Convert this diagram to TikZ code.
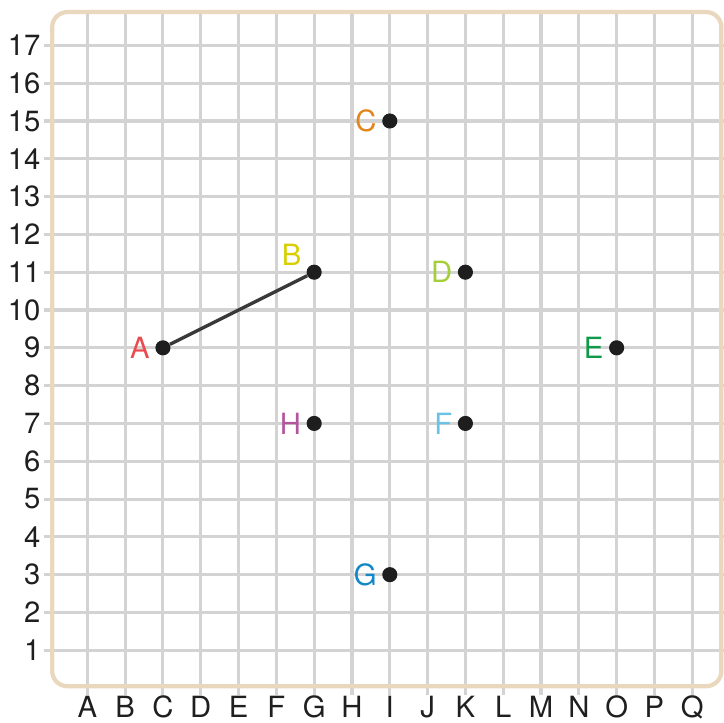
\documentclass[tikz,border=0pt]{standalone}
\usepackage{fontspec}
\setmainfont{TeX Gyre Heros}
\usetikzlibrary{positioning}
\definecolor{gridgray}{HTML}{D3D3D3}
\definecolor{framebeige}{HTML}{EAD8BE}
\definecolor{dotblack}{HTML}{1E1E1E}
\definecolor{segline}{HTML}{3A3838}
\definecolor{cA}{HTML}{E94B4F}
\definecolor{cB}{HTML}{D8CE00}
\definecolor{cC}{HTML}{E2861C}
\definecolor{cD}{HTML}{A5CF3A}
\definecolor{cE}{HTML}{0E9A48}
\definecolor{cF}{HTML}{6AC3E6}
\definecolor{cG}{HTML}{1287C6}
\definecolor{cH}{HTML}{B2559C}

\begin{document}
\begin{tikzpicture}[
  dot/.style={circle,fill=dotblack,inner sep=0pt,minimum size=4mm},
  lbl/.style={font=\fontsize{22}{26}\selectfont,inner sep=1pt},
  axislbl/.style={font=\fontsize{22}{26}\selectfont,text=black!88,inner sep=1pt},
  gridline/.style={draw=gridgray,line width=2.3pt},
  node distance=1mm]
\useasboundingbox (-1.31,-0.905) rectangle (17.84,18.20);

% squared paper
\foreach \y in {1,...,17}
  \draw[gridline] (-0.15,\y) -- (17.84,\y);
\foreach \x in {1,...,17}
  \draw[gridline] (\x,17.88) -- (\x,-0.19);
\draw[framebeige,line width=3.2pt,rounded corners=4mm] (0.07,0.05) rectangle (17.77,17.88);

% axis labels
\foreach \y in {1,...,17}
  \node[axislbl,anchor=east] (row\y) at (-0.2,\y) {\y};
\foreach \l [count=\x] in {A,B,C,D,E,F,G,H,I,J,K,L,M,N,O,P,Q}
  \node[axislbl,anchor=base] (col\x) at (\x,-0.77) {\l};

% points
\node[dot] (ptA) at (3,9) {};
\node[dot] (ptB) at (7,11) {};
\node[dot] (ptC) at (9,15) {};
\node[dot] (ptD) at (11,11) {};
\node[dot] (ptE) at (15,9) {};
\node[dot] (ptF) at (11,7) {};
\node[dot] (ptG) at (9,3) {};
\node[dot] (ptH) at (7,7) {};

\node[lbl,text=cA,left=of ptA] (lblA) {A};
\node[lbl,text=cB,above left=0mm and 1.5mm of ptB] (lblB) {B};
\node[lbl,text=cC,left=of ptC] (lblC) {C};
\node[lbl,text=cD,left=of ptD] (lblD) {D};
\node[lbl,text=cE,left=of ptE] (lblE) {E};
\node[lbl,text=cF,left=of ptF] (lblF) {F};
\node[lbl,text=cG,left=of ptG] (lblG) {G};
\node[lbl,text=cH,left=of ptH] (lblH) {H};

\draw[segline,line width=2.5pt] (ptA) -- (ptB);
\end{tikzpicture}
\end{document}
